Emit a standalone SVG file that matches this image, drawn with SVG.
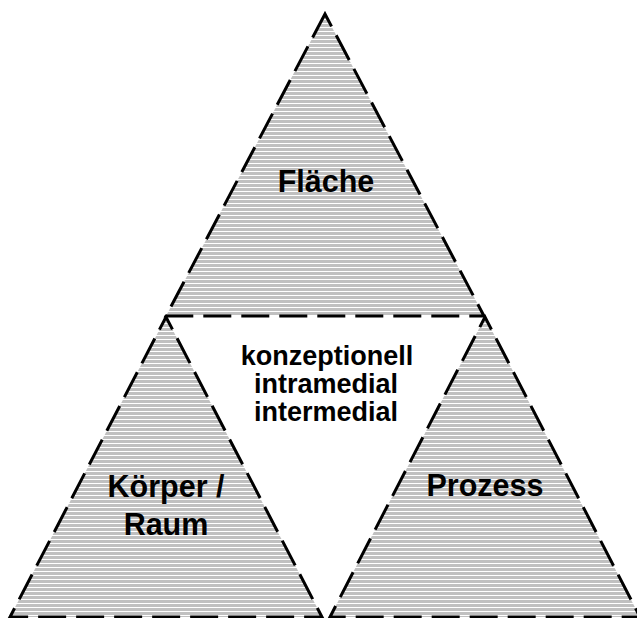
<svg xmlns="http://www.w3.org/2000/svg" width="637" height="618" viewBox="0 0 637 618">
  <defs>
    <pattern id="hatch" patternUnits="userSpaceOnUse" x="0" y="0" width="8" height="4">
      <rect x="0" y="0" width="8" height="4" fill="#c0c0c0"/>
      <rect x="0" y="3" width="8" height="1" fill="#ffffff"/>
    </pattern>
  </defs>
  <style>
    .tri { fill: url(#hatch); stroke: #000; stroke-width: 3; stroke-dasharray: 28 10; stroke-dashoffset: 14; stroke-linejoin: miter; }
    .lbl { font-family: "Liberation Sans", Arial, sans-serif; font-weight: bold; fill: #000; text-anchor: middle; }
    .big { font-size: 30.5px; }
    .mid { font-size: 27px; }
  </style>
  <rect width="637" height="618" fill="#ffffff"/>
  <g id="flaeche">
    <path class="tri" d="M325,14 L484,316 L166,316 Z"/>
    <text class="lbl big" x="326" y="192">Fläche</text>
  </g>
  <g id="koerper-raum">
    <path class="tri" d="M166,317 L322,617 L10,617 Z"/>
    <text class="lbl big" x="166" y="497">Körper /</text>
    <text class="lbl big" x="166" y="535">Raum</text>
  </g>
  <g id="prozess">
    <path class="tri" d="M485,317 L640,617 L330,617 Z"/>
    <text class="lbl big" x="485" y="496">Prozess</text>
  </g>
  <g id="center-label">
    <text class="lbl mid" x="327" y="365">konzeptionell</text>
    <text class="lbl mid" x="326" y="393">intramedial</text>
    <text class="lbl mid" x="326" y="421">intermedial</text>
  </g>
  <g id="connectors"/>
</svg>
